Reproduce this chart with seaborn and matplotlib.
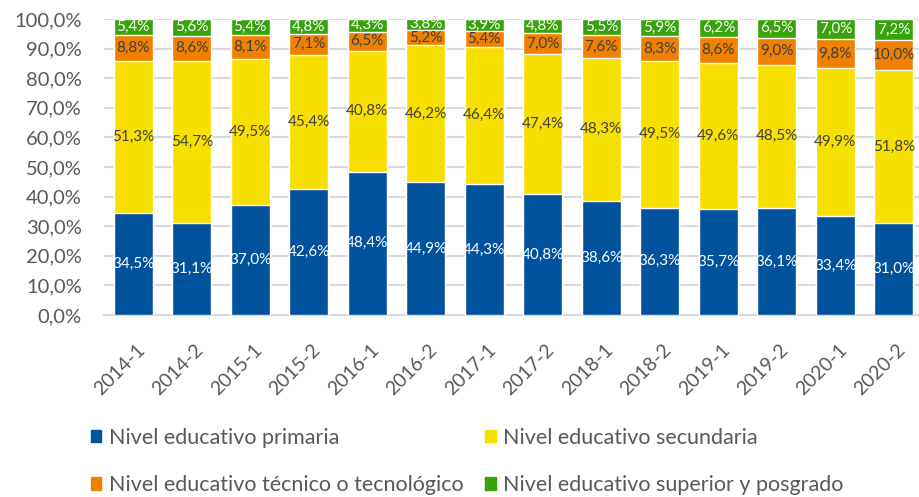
import numpy as np
import pandas as pd
import seaborn as sns
import matplotlib.pyplot as plt
from matplotlib.patches import Patch
from matplotlib.transforms import ScaledTranslation

periodos = ['2014-1', '2014-2', '2015-1', '2015-2', '2016-1', '2016-2', '2017-1',
            '2017-2', '2018-1', '2018-2', '2019-1', '2019-2', '2020-1', '2020-2']
primaria = [34.5, 31.1, 37.0, 42.6, 48.4, 44.9, 44.3, 40.8, 38.6, 36.3, 35.7, 36.1, 33.4, 31.0]
secundaria = [51.3, 54.7, 49.5, 45.4, 40.8, 46.2, 46.4, 47.4, 48.3, 49.5, 49.6, 48.5, 49.9, 51.8]
tecnico = [8.8, 8.6, 8.1, 7.1, 6.5, 5.2, 5.4, 7.0, 7.6, 8.3, 8.6, 9.0, 9.8, 10.0]
superior = [5.4, 5.6, 5.4, 4.8, 4.3, 3.8, 3.9, 4.8, 5.5, 5.9, 6.2, 6.5, 7.0, 7.2]

niveles = ['Nivel educativo primaria', 'Nivel educativo secundaria',
           'Nivel educativo técnico o tecnológico', 'Nivel educativo superior y posgrado']
colores = ['#00529C', '#F7DF00', '#F08100', '#38A30C']
color_etiqueta = ['white', '#404040', '#404040', 'white']

sns.set_style('white')
plt.rcParams['font.family'] = ['Lato', 'DejaVu Sans']

df = pd.DataFrame({'periodo': periodos, niveles[0]: primaria, niveles[1]: secundaria,
                   niveles[2]: tecnico, niveles[3]: superior})
acum = df[niveles].cumsum(axis=1)

fig = plt.figure(figsize=(9.19, 4.97), dpi=100)
ax = fig.add_axes([104 / 919, 1 - 315 / 497, (919 - 104) / 919, 296 / 497])

# stacked bars: draw totals first, then smaller cumulative sums on top
for i in range(3, -1, -1):
    sns.barplot(x=df['periodo'], y=acum[niveles[i]], color=colores[i], width=0.67,
                saturation=1, ax=ax, zorder=3)

for i, nivel in enumerate(niveles):
    for j, v in enumerate(df[nivel]):
        ax.text(j, acum[nivel][j] - v / 2, f'{v:.1f}%'.replace('.', ','),
                ha='center', va='center', fontsize=11, color=color_etiqueta[i], zorder=4)

ax.set_xlim(-0.5, 13.43)
ax.set_ylim(0, 100)
ax.set_yticks(np.arange(0, 101, 10))
ax.set_yticklabels([f'{t:.1f}%'.replace('.', ',') for t in np.arange(0, 101, 10)])
ax.grid(axis='y', color='#D9D9D9', linewidth=1.5, zorder=0)
ax.set_axisbelow(True)
for s in ['top', 'right', 'left']:
    ax.spines[s].set_visible(False)
ax.spines['bottom'].set_color('#D9D9D9')
ax.spines['bottom'].set_linewidth(1.5)
ax.set_xlabel('')
ax.set_ylabel('')
ax.tick_params(axis='y', length=0, pad=16, labelsize=14.5, labelcolor='#595959')
ax.tick_params(axis='x', length=0, pad=0, labelsize=14, labelcolor='#595959')
for lab in ax.get_xticklabels():
    lab.set_rotation(45)
    lab.set_ha('right')
    lab.set_va('center')
    lab.set_rotation_mode('anchor')
    lab.set_transform(lab.get_transform() + ScaledTranslation(0.09, -0.32, fig.dpi_scale_trans))

handles = [Patch(color=c) for c in colores]
orden = [0, 2, 1, 3]
fig.legend([handles[k] for k in orden], [niveles[k] for k in orden], ncol=2,
           loc='upper left', bbox_to_anchor=(82 / 919, 1 - 419 / 497), frameon=False,
           borderaxespad=0, fontsize=15.5, handlelength=0.5, handleheight=0.5,
           handletextpad=0.35, columnspacing=1.0, labelspacing=1.28, labelcolor='#595959')

fig.savefig('out.png', dpi=100)
